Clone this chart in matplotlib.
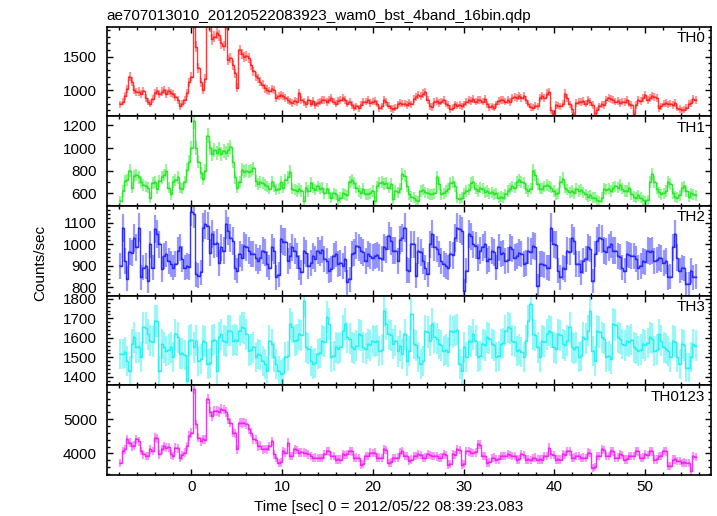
import numpy as np
import matplotlib
matplotlib.use("Agg")
import matplotlib.pyplot as plt
from matplotlib.ticker import MultipleLocator

plt.rcParams['font.family'] = ['Liberation Sans', 'DejaVu Sans']
plt.rcParams['font.size'] = 11

# time grid of the light curve (bin start and width in sec)
t0 = -7.8
dt = 0.2525

# count rates (counts/sec)
th0 = [
    790, 830, 920, 1020, 1200, 1130, 1010, 970,
    980, 940, 990, 880, 830, 800, 870, 960,
    990, 940, 980, 1000, 950, 990, 960, 940,
    900, 860, 760, 800, 850, 960, 1120, 1200,
    2000, 1650, 1330, 1120, 1010, 1170, 2050, 1950,
    1760, 1800, 1850, 1820, 1700, 1660, 1980, 1450,
    1480, 1380, 1250, 1040, 1600, 1540, 1500, 1510,
    1480, 1380, 1280, 1210, 1180, 1130, 1080, 1030,
    1010, 990, 1020, 1000, 880, 920, 930, 910,
    890, 860, 830, 810, 840, 820, 960, 850,
    820, 790, 850, 800, 840, 780, 810, 830,
    850, 860, 820, 850, 880, 830, 800, 840,
    860, 880, 850, 800, 830, 780, 740, 760,
    730, 780, 820, 830, 850, 810, 830, 840,
    800, 730, 760, 850, 820, 770, 730, 720,
    740, 790, 810, 800, 800, 780, 810, 790,
    870, 900, 930, 920, 950, 970, 860, 760,
    750, 820, 840, 810, 830, 850, 800, 780,
    720, 740, 790, 770, 780, 760, 790, 820,
    850, 840, 870, 830, 860, 850, 830, 870,
    790, 750, 760, 740, 790, 840, 860, 850,
    830, 860, 820, 880, 900, 890, 920, 880,
    910, 860, 800, 750, 740, 770, 760, 880,
    910, 880, 950, 970, 700, 650, 780, 770,
    760, 800, 950, 880, 790, 720, 630, 810,
    830, 820, 840, 800, 850, 820, 780, 620,
    700, 760, 790, 780, 860, 880, 870, 850,
    830, 840, 810, 830, 820, 850, 800, 780,
    650, 780, 850, 840, 880, 930, 860, 880,
    910, 900, 890, 730, 760, 800, 810, 790,
    800, 780, 810, 740, 720, 700, 710, 740,
    800, 810, 870, 860,
]

th1 = [
    530, 620, 710, 720, 800, 650, 750, 760,
    740, 700, 670, 660, 650, 560, 690, 700,
    640, 710, 740, 760, 800, 650, 590, 700,
    720, 740, 650, 640, 700, 810, 880, 1000,
    1240, 1000, 880, 780, 730, 800, 1110, 1000,
    950, 980, 960, 990, 950, 970, 960, 980,
    1010, 880, 740, 650, 700, 810, 790, 800,
    790, 800, 820, 710, 680, 700, 690, 670,
    660, 640, 700, 660, 630, 640, 700, 650,
    720, 740, 790, 640, 630, 620, 640, 620,
    530, 650, 620, 690, 650, 630, 660, 640,
    650, 600, 640, 600, 560, 600, 590, 540,
    560, 600, 590, 580, 700, 720, 690, 650,
    620, 600, 640, 590, 590, 600, 620, 530,
    660, 690, 700, 680, 690, 650, 680, 550,
    620, 610, 640, 770, 750, 660, 590, 570,
    560, 540, 530, 620, 630, 610, 600, 590,
    590, 600, 740, 680, 590, 600, 620, 640,
    690, 700, 660, 560, 550, 560, 600, 620,
    630, 690, 700, 640, 620, 650, 640, 610,
    620, 600, 610, 590, 600, 560, 570, 560,
    590, 620, 640, 660, 650, 700, 720, 700,
    690, 640, 620, 640, 800, 760, 680, 640,
    640, 660, 670, 660, 650, 620, 590, 600,
    700, 730, 650, 630, 610, 620, 600, 640,
    620, 630, 610, 590, 570, 580, 560, 560,
    540, 530, 560, 640, 630, 640, 620, 650,
    660, 650, 670, 640, 620, 620, 650, 590,
    570, 560, 580, 560, 540, 530, 540, 700,
    770, 700, 640, 610, 590, 600, 620, 700,
    680, 600, 570, 560, 580, 650, 660, 620,
    570, 600, 590, 580,
]

th2 = [
    900, 1075, 920, 840, 965, 960, 1030, 985,
    1077, 846, 892, 900, 830, 1000, 892, 1070,
    1046, 1000, 884, 946, 954, 923, 907, 892,
    907, 970, 985, 930, 892, 900, 895, 1150,
    1140, 861, 853, 870, 1077, 1092, 1085, 961,
    1046, 1000, 1005, 915, 985, 970, 1092, 1061,
    1030, 1015, 892, 877, 954, 938, 992, 985,
    970, 955, 954, 938, 923, 935, 970, 962,
    907, 892, 985, 968, 846, 858, 1023, 1012,
    1010, 923, 944, 985, 968, 946, 892, 869,
    970, 958, 900, 912, 946, 932, 970, 960,
    975, 930, 921, 877, 886, 946, 955, 907,
    911, 900, 930, 823, 838, 954, 961, 992,
    985, 970, 962, 923, 954, 944, 938, 946,
    950, 938, 931, 985, 976, 1038, 1015, 970,
    970, 923, 1020, 1030, 1077, 880, 877, 1000,
    1000, 853, 970, 962, 923, 892, 861, 1000,
    1046, 985, 978, 954, 923, 907, 900, 892,
    954, 948, 1030, 1077, 1070, 1062, 784, 877,
    1046, 1036, 1000, 993, 938, 970, 985, 1000,
    923, 930, 970, 962, 892, 985, 954, 960,
    923, 928, 985, 978, 938, 944, 961, 955,
    907, 912, 970, 966, 992, 988, 807, 907,
    907, 905, 892, 890, 1077, 1000, 996, 877,
    846, 892, 886, 970, 965, 1030, 1015, 907,
    907, 869, 923, 930, 985, 978, 830, 954,
    1015, 1030, 1024, 970, 966, 985, 1000, 970,
    970, 946, 940, 892, 877, 954, 950, 946,
    946, 930, 892, 898, 923, 918, 970, 966,
    970, 923, 928, 938, 934, 915, 920, 846,
    850, 985, 1046, 938, 877, 892, 888, 815,
    815, 877, 846, 850,
]

th3 = [
    1516, 1515, 1525, 1482, 1430, 1568, 1602, 1551,
    1551, 1499, 1654, 1650, 1619, 1585, 1580, 1688,
    1688, 1430, 1568, 1551, 1533, 1540, 1551, 1499,
    1619, 1602, 1516, 1520, 1510, 1379, 1585, 1590,
    1551, 1585, 1482, 1490, 1585, 1580, 1465, 1470,
    1585, 1590, 1430, 1602, 1619, 1585, 1580, 1637,
    1637, 1585, 1590, 1585, 1637, 1654, 1650, 1619,
    1533, 1540, 1551, 1499, 1516, 1510, 1482, 1465,
    1430, 1585, 1568, 1499, 1465, 1430, 1413, 1420,
    1499, 1505, 1671, 1654, 1585, 1590, 1619, 1612,
    1791, 1551, 1545, 1482, 1465, 1470, 1516, 1522,
    1585, 1580, 1705, 1671, 1499, 1505, 1551, 1545,
    1551, 1637, 1671, 1602, 1596, 1551, 1545, 1560,
    1619, 1612, 1551, 1545, 1568, 1562, 1585, 1580,
    1585, 1533, 1540, 1740, 1671, 1619, 1612, 1568,
    1585, 1530, 1560, 1516, 1619, 1482, 1533, 1723,
    1568, 1562, 1499, 1465, 1480, 1637, 1630, 1585,
    1671, 1602, 1596, 1568, 1562, 1533, 1540, 1528,
    1637, 1630, 1637, 1642, 1465, 1430, 1551, 1499,
    1585, 1580, 1619, 1585, 1499, 1505, 1568, 1562,
    1602, 1596, 1568, 1562, 1499, 1505, 1568, 1574,
    1637, 1654, 1648, 1585, 1580, 1533, 1540, 1528,
    1499, 1585, 1688, 1774, 1619, 1612, 1551, 1499,
    1585, 1580, 1619, 1637, 1630, 1551, 1545, 1619,
    1612, 1568, 1562, 1585, 1654, 1551, 1545, 1551,
    1499, 1505, 1602, 1596, 1637, 1740, 1533, 1482,
    1637, 1630, 1602, 1596, 1499, 1505, 1493, 1671,
    1665, 1602, 1596, 1568, 1562, 1585, 1580, 1590,
    1551, 1545, 1533, 1540, 1568, 1562, 1574, 1602,
    1596, 1533, 1540, 1619, 1585, 1551, 1545, 1533,
    1499, 1585, 1580, 1499, 1465, 1568, 1562, 1447,
    1447, 1499, 1568, 1560,
]

th0123 = [
    3726, 4069, 4118, 4412, 4314, 4216, 4230, 4412,
    4363, 4069, 3971, 3922, 3930, 4118, 4069, 4461,
    4440, 3971, 4118, 4216, 4167, 4180, 3971, 3922,
    4167, 4150, 3873, 3950, 4020, 4216, 4510, 4600,
    5882, 4850, 4461, 4363, 4412, 4400, 5588, 5196,
    5098, 5245, 5230, 5196, 5294, 5280, 5196, 5000,
    4902, 4608, 4590, 4118, 4902, 4890, 4902, 4853,
    4706, 4608, 4412, 4400, 4216, 4230, 4118, 4130,
    4118, 4216, 4363, 3971, 3873, 3726, 3740, 4069,
    4020, 4314, 3922, 3930, 4118, 4100, 4020, 4030,
    4020, 4010, 3971, 3922, 3873, 3880, 3865, 3873,
    3873, 3971, 4069, 4060, 3922, 3930, 3824, 3830,
    3824, 3971, 3960, 3971, 4069, 4060, 3873, 3880,
    3873, 3677, 3690, 3922, 3930, 4020, 4010, 4020,
    3873, 3880, 3865, 4118, 4100, 3726, 3740, 3873,
    3873, 3880, 4020, 4069, 3922, 3930, 3775, 3824,
    3922, 3930, 3971, 3960, 3873, 3880, 3971, 3960,
    3922, 3930, 3915, 3873, 3880, 3971, 3960, 3677,
    3690, 3971, 3960, 4118, 4100, 3677, 3690, 4069,
    4060, 4020, 4010, 4030, 4265, 4250, 3922, 3930,
    3726, 3740, 3873, 3880, 3824, 3830, 3922, 3930,
    3922, 3971, 3960, 3922, 3930, 3824, 3830, 3971,
    3960, 3824, 3830, 3815, 3873, 3880, 3824, 3830,
    3824, 3922, 3930, 4167, 3971, 3960, 3824, 3830,
    3824, 3971, 3960, 4069, 4060, 3873, 3880, 3922,
    3930, 3873, 3880, 3865, 4020, 4010, 3579, 3600,
    3922, 3930, 4118, 4100, 3922, 3930, 4069, 4060,
    3873, 3880, 3971, 3960, 3824, 3830, 3922, 3930,
    3922, 4069, 4060, 3873, 3880, 3971, 3960, 4069,
    4060, 3824, 3830, 3922, 3930, 4069, 4060, 3628,
    3640, 3824, 3830, 3775, 3780, 3726, 3740, 3726,
    3726, 3481, 3922, 3900,
]

names = ["TH0", "TH1", "TH2", "TH3", "TH0123"]
series = [th0, th1, th2, th3, th0123]
colors = ["#ff2020", "#22e622", "#2020ff", "#22f0f0", "#f020f0"]
ylims = [(610, 1945), (487, 1280), (762, 1177), (1357, 1817), (3382, 5990)]
majors = [500, 200, 100, 100, 1000]
minors = [100, 100, 20, 20, 200]

title = "ae707013010_20120522083923_wam0_bst_4band_16bin.qdp"
xlabel = "Time [sec] 0 = 2012/05/22 08:39:23.083"

fig, axes = plt.subplots(5, 1, sharex=True, figsize=(7.17, 5.16), dpi=100,
                         gridspec_kw={'hspace': 0})
fig.subplots_adjust(left=0.149, right=0.992, top=0.948, bottom=0.08)

for ax, name, y, c, lim, mj, mn in zip(axes, names, series, colors, ylims, majors, minors):
    y = np.asarray(y, dtype=float)
    t = t0 + dt * np.arange(len(y))
    err = np.sqrt(y / dt)
    # pale error bars under a step line through the bin values
    ax.errorbar(t, y, xerr=dt / 2, yerr=err, fmt='none', ecolor=c,
                elinewidth=1.6, alpha=0.45)
    ax.step(t, y, where='mid', color=c, lw=1.0, alpha=0.9)
    ax.set_ylim(lim)
    ax.yaxis.set_major_locator(MultipleLocator(mj))
    ax.yaxis.set_minor_locator(MultipleLocator(mn))
    ax.xaxis.set_major_locator(MultipleLocator(10))
    ax.xaxis.set_minor_locator(MultipleLocator(2))
    ax.tick_params(which='both', direction='in', top=True, right=True, width=1)
    ax.tick_params(which='major', length=4.5)
    ax.tick_params(which='minor', length=2.5)
    ax.tick_params(axis='y', pad=7)
    ax.tick_params(axis='x', pad=4)
    for s in ax.spines.values():
        s.set_linewidth(1.2)
    ax.text(0.99, 0.95, name, transform=ax.transAxes, ha='right', va='top')

axes[-1].set_xlim(-9.3, 57.3)

fig.text(0.149, 1 - 20 / 516, title, ha='left', va='baseline')
fig.text(389 / 717, 1 - 507 / 516, xlabel, ha='center', va='center')
fig.text(40 / 717, 1 - 263 / 516, "Counts/sec", rotation=90, ha='center', va='center')

fig.savefig("out.png", dpi=100)
